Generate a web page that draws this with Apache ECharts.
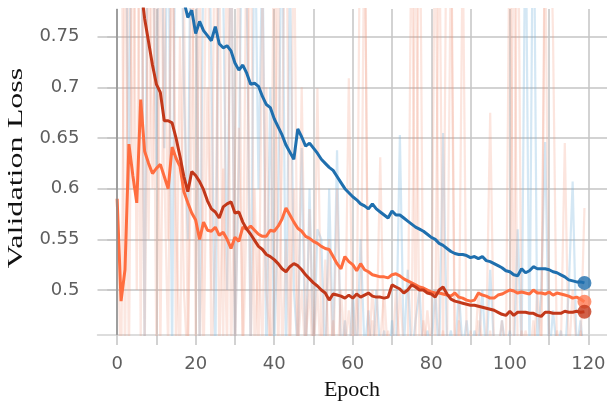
<!DOCTYPE html>
<html>
<head>
<meta charset="utf-8">
<script src="https://cdn.jsdelivr.net/npm/echarts@6/dist/echarts.min.js"></script>
<style>
  html, body { margin: 0; padding: 0; background: #ffffff; }
  #chart { width: 607px; height: 403px; }
</style>
</head>
<body>
<div id="chart"></div>
<script>
// Axis ticks and labels
const xTickValues = [0, 10, 20, 30, 40, 50, 60, 70, 80, 90, 100, 110, 120];
const xLabelValues = [0, 20, 40, 60, 80, 100, 120];
const yTickValues = [0.5, 0.55, 0.6, 0.65, 0.7, 0.75];

// Smoothed validation loss per epoch (0..119)
const lossBlue = [
  1.12, 1.08, 1.04, 1.00, 0.97, 0.95, 0.93, 0.91, 0.89, 0.875,
  0.86, 0.85, 0.84, 0.83, 0.815, 0.805, 0.795, 0.785, 0.769, 0.776,
  0.753, 0.765, 0.756, 0.751, 0.746, 0.760, 0.743, 0.739, 0.741, 0.736,
  0.724, 0.717, 0.722, 0.714, 0.703, 0.704, 0.701, 0.691, 0.683, 0.680,
  0.669, 0.661, 0.653, 0.643, 0.636, 0.629, 0.659, 0.651, 0.642, 0.645,
  0.640, 0.635, 0.629, 0.625, 0.621, 0.618, 0.612, 0.606, 0.600, 0.596,
  0.592, 0.589, 0.585, 0.583, 0.580, 0.585, 0.580, 0.577, 0.574, 0.571,
  0.578, 0.574, 0.574, 0.571, 0.568, 0.565, 0.562, 0.560, 0.558, 0.555,
  0.552, 0.550, 0.546, 0.544, 0.541, 0.538, 0.536, 0.535, 0.535, 0.534,
  0.532, 0.533, 0.531, 0.533, 0.529, 0.528, 0.526, 0.524, 0.522, 0.519,
  0.518, 0.515, 0.514, 0.521, 0.517, 0.519, 0.523, 0.521, 0.521, 0.521,
  0.520, 0.518, 0.517, 0.515, 0.513, 0.510, 0.509, 0.508, 0.508, 0.507
];
const lossOrange = [
  0.590, 0.489, 0.520, 0.644, 0.613, 0.586, 0.688, 0.637, 0.625, 0.615,
  0.620, 0.624, 0.612, 0.600, 0.641, 0.630, 0.622, 0.597, 0.586, 0.576,
  0.569, 0.550, 0.567, 0.559, 0.558, 0.562, 0.554, 0.557, 0.550, 0.541,
  0.552, 0.548, 0.562, 0.560, 0.563, 0.559, 0.555, 0.553, 0.553, 0.559,
  0.558, 0.563, 0.570, 0.581, 0.574, 0.567, 0.561, 0.558, 0.553, 0.551,
  0.548, 0.546, 0.543, 0.541, 0.540, 0.533, 0.526, 0.521, 0.533, 0.528,
  0.525, 0.519, 0.526, 0.520, 0.518, 0.515, 0.514, 0.513, 0.513, 0.512,
  0.515, 0.516, 0.514, 0.511, 0.509, 0.507, 0.505, 0.503, 0.502, 0.500,
  0.498, 0.497, 0.497, 0.496, 0.495, 0.494, 0.497, 0.493, 0.492, 0.490,
  0.489, 0.490, 0.497, 0.495, 0.494, 0.492, 0.492, 0.495, 0.496, 0.498,
  0.500, 0.499, 0.497, 0.498, 0.497, 0.496, 0.500, 0.497, 0.497, 0.496,
  0.498, 0.495, 0.497, 0.496, 0.495, 0.494, 0.492, 0.493, 0.491, 0.4885
];
const lossRed = [
  1.00, 0.96, 0.92, 0.89, 0.86, 0.83, 0.80, 0.768, 0.745, 0.722,
  0.703, 0.695, 0.667, 0.667, 0.665, 0.650, 0.632, 0.612, 0.597, 0.617,
  0.613, 0.607, 0.599, 0.588, 0.580, 0.577, 0.571, 0.582, 0.585, 0.587,
  0.576, 0.577, 0.567, 0.560, 0.555, 0.549, 0.543, 0.540, 0.535, 0.533,
  0.530, 0.526, 0.521, 0.518, 0.523, 0.526, 0.524, 0.520, 0.515, 0.511,
  0.507, 0.504, 0.500, 0.497, 0.490, 0.496, 0.495, 0.494, 0.492, 0.495,
  0.492, 0.496, 0.493, 0.495, 0.497, 0.494, 0.493, 0.493, 0.492, 0.493,
  0.505, 0.503, 0.501, 0.497, 0.500, 0.505, 0.503, 0.500, 0.500, 0.497,
  0.496, 0.493, 0.500, 0.503, 0.496, 0.491, 0.489, 0.488, 0.487, 0.486,
  0.485, 0.485, 0.484, 0.483, 0.482, 0.481, 0.480, 0.478, 0.476, 0.475,
  0.479, 0.475, 0.478, 0.478, 0.478, 0.477, 0.477, 0.475, 0.474, 0.478,
  0.478, 0.477, 0.477, 0.477, 0.479, 0.478, 0.478, 0.479, 0.478, 0.4786
];

// Raw (unsmoothed) validation loss per epoch
const rawBlue = [
  1.20, 0.90, 0.95, 0.60, 1.10, 0.85, 0.95, 0.45, 1.00, 0.90,
  0.62, 1.05, 0.64, 0.90, 0.43, 1.00, 0.95, 0.70, 0.55, 1.00,
  0.90, 0.45, 0.85, 0.95, 0.72, 0.42, 0.90, 0.80, 0.50, 0.88,
  0.44, 0.62, 0.95, 0.80, 0.43, 0.90, 0.60, 0.85, 0.42, 0.70,
  0.44, 0.58, 0.90, 0.43, 0.82, 0.50, 0.44, 0.64, 0.42, 0.60,
  0.43, 0.56, 0.55, 0.42, 0.60, 0.44, 0.638, 0.43, 0.47, 0.42,
  0.50, 0.43, 0.55, 0.44, 0.48, 0.42, 0.50, 0.44, 0.46, 0.42,
  0.47, 0.43, 0.653, 0.44, 0.52, 0.43, 0.47, 0.50, 0.43, 0.46,
  0.44, 0.50, 0.43, 0.655, 0.44, 0.46, 0.43, 0.50, 0.44, 0.47,
  0.43, 0.46, 0.44, 0.50, 0.43, 0.52, 0.44, 0.43, 0.47, 0.44,
  0.46, 0.43, 0.56, 0.44, 0.90, 0.43, 0.95, 0.44, 0.50, 0.646,
  0.43, 0.48, 0.44, 0.46, 0.43, 0.50, 0.607, 0.44, 0.47, 0.43
];
const rawOrange = [
  0.59, 0.40, 0.90, 0.42, 0.95, 0.50, 1.00, 0.43, 0.85, 0.60,
  0.90, 0.44, 0.80, 0.55, 0.95, 0.43, 0.75, 0.50, 0.42, 0.90,
  0.45, 0.85, 0.42, 0.70, 0.50, 0.95, 0.43, 0.62, 0.44, 0.90,
  0.42, 0.66, 0.45, 0.90, 0.44, 0.60, 0.43, 0.80, 0.50, 0.44,
  0.90, 0.43, 0.64, 0.95, 0.44, 0.60, 0.42, 0.70, 0.45, 0.50,
  0.42, 0.699, 0.45, 0.43, 0.55, 0.42, 0.60, 0.44, 0.43, 0.709,
  0.44, 0.45, 0.95, 0.90, 0.43, 0.50, 0.44, 0.631, 0.43, 0.46,
  0.43, 0.50, 0.44, 0.45, 0.43, 0.90, 0.44, 0.95, 0.43, 0.48,
  0.44, 0.45, 0.90, 0.43, 0.95, 0.90, 0.44, 0.43, 0.85, 0.44,
  0.46, 0.43, 0.50, 0.44, 0.45, 0.675, 0.43, 0.44, 0.47, 0.43,
  0.90, 0.44, 0.95, 0.43, 0.46, 0.44, 0.43, 0.50, 0.44, 0.90,
  0.95, 0.75, 0.43, 0.44, 0.645, 0.43, 0.50, 0.44, 0.44, 0.581
];
const rawRed = [
  1.00, 0.95, 0.42, 0.90, 0.60, 1.00, 0.45, 0.95, 0.55, 0.90,
  0.43, 0.85, 0.62, 0.44, 0.90, 0.58, 0.42, 0.80, 0.44, 0.66,
  0.90, 0.43, 0.60, 0.95, 0.42, 0.55, 0.85, 0.44, 0.90, 0.43,
  0.62, 0.85, 0.42, 0.58, 0.90, 0.43, 0.55, 0.44, 0.70, 0.42,
  0.50, 0.85, 0.43, 0.55, 0.42, 0.90, 0.44, 0.50, 0.43, 0.58,
  0.44, 0.50, 0.42, 0.53, 0.43, 0.47, 0.42, 0.50, 0.44, 0.48,
  0.43, 0.50, 0.44, 0.90, 0.42, 0.47, 0.43, 0.45, 0.50, 0.43,
  0.45, 0.43, 0.50, 0.44, 0.42, 0.46, 0.90, 0.43, 0.47, 0.44,
  0.43, 0.90, 0.44, 0.46, 0.43, 0.85, 0.42, 0.47, 0.44, 0.43,
  0.45, 0.42, 0.47, 0.44, 0.43, 0.46, 0.42, 0.44, 0.45, 0.43,
  0.44, 0.90, 0.43, 0.46, 0.44, 0.43, 0.47, 0.42, 0.44, 0.85,
  0.44, 0.43, 0.46, 0.44, 0.43, 0.45, 0.44, 0.43, 0.46, 0.44
];

const toPoints = arr => arr.map((v, i) => [i, v]);
const lastPoint = arr => [[arr.length - 1, arr[arr.length - 1]]];

const gridColor = '#c4c4c4';
const labelColor = '#5e5e5e';

function rawSeries(values, color, extra) {
  return Object.assign({
    type: 'line',
    data: toPoints(values),
    showSymbol: false,
    silent: true,
    z: 1,
    lineStyle: { color: color, width: 2.2 },
    animation: false
  }, extra || {});
}

function mainSeries(values, color) {
  return {
    type: 'line',
    data: toPoints(values),
    showSymbol: false,
    silent: true,
    z: 3,
    lineStyle: { color: color, width: 3 },
    animation: false
  };
}

function endMarker(values, color) {
  return {
    type: 'scatter',
    data: lastPoint(values),
    symbol: 'circle',
    symbolSize: 14,
    z: 4,
    silent: true,
    itemStyle: { color: color },
    animation: false
  };
}

const chart = echarts.init(document.getElementById('chart'), null, { renderer: 'canvas' });

chart.setOption({
  backgroundColor: '#ffffff',
  animation: false,
  grid: { left: 97.5, top: 9, width: 510.5, height: 326, outerBoundsMode: 'none' },
  xAxis: {
    type: 'value',
    min: -5,
    max: 125,
    axisLine: { show: true, lineStyle: { color: '#d2d2d2', width: 1.5 } },
    axisTick: {
      show: true, length: 10, customValues: xTickValues,
      lineStyle: { color: gridColor, width: 1.5 }
    },
    axisLabel: {
      customValues: xLabelValues,
      margin: 20,
      color: labelColor,
      fontFamily: 'DejaVu Sans',
      fontSize: 18
    },
    splitLine: { show: true, lineStyle: { color: gridColor, width: 1.5 } }
  },
  yAxis: {
    type: 'value',
    min: 0.4556,
    max: 0.7773,
    axisLine: { show: true, lineStyle: { color: '#d2d2d2', width: 1.5 } },
    axisTick: {
      show: true, length: 10, customValues: yTickValues,
      lineStyle: { color: gridColor, width: 1.5 }
    },
    axisLabel: {
      customValues: yTickValues,
      margin: 18,
      color: labelColor,
      fontFamily: 'DejaVu Sans',
      fontSize: 18,
      formatter: v => String(parseFloat(Number(v).toFixed(2)))
    },
    splitLine: { show: true, lineStyle: { color: gridColor, width: 1.5 } }
  },
  graphic: [
    {
      type: 'text',
      x: 352, y: 390,
      style: {
        text: 'Epoch',
        fontFamily: 'Liberation Serif',
        fontSize: 22,
        fill: '#111111',
        align: 'center',
        verticalAlign: 'middle'
      }
    },
    {
      type: 'text',
      x: 16, y: 168,
      rotation: Math.PI / 2,
      scaleX: 1.46,
      style: {
        text: 'Validation Loss',
        fontFamily: 'Liberation Serif',
        fontSize: 22,
        fill: '#111111',
        align: 'center',
        verticalAlign: 'middle'
      }
    }
  ],
  series: [
    rawSeries(rawBlue, 'rgba(120,180,220,0.32)', {
      markLine: {
        silent: true,
        symbol: ['none', 'none'],
        label: { show: false },
        lineStyle: { color: '#8c8c8c', width: 1.5, type: 'solid' },
        data: [{ xAxis: 0 }],
        animation: false
      }
    }),
    rawSeries(rawOrange, 'rgba(245,150,125,0.25)'),
    rawSeries(rawRed, 'rgba(235,140,115,0.21)'),
    mainSeries(lossOrange, '#ff6d3f'),
    mainSeries(lossRed, '#c2381a'),
    mainSeries(lossBlue, '#1f6fae'),
    endMarker(lossOrange, '#ff7b52'),
    endMarker(lossRed, '#c63a1c'),
    endMarker(lossBlue, '#1f6fae')
  ]
});
</script>
</body>
</html>
